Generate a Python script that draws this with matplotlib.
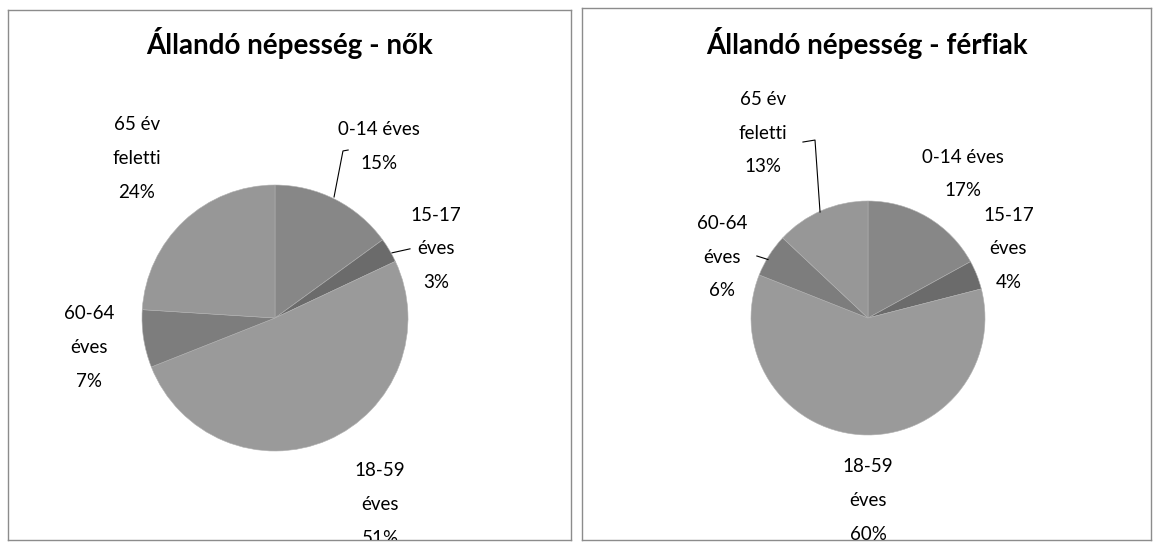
import matplotlib.pyplot as plt

plt.rcParams['font.family'] = ['Lato', 'DejaVu Sans']

age_groups = ['0-14 éves', '15-17 éves', '18-59 éves', '60-64 éves', '65 év feletti']
women = [15, 3, 51, 7, 24]
men = [17, 4, 60, 6, 13]
colors = ['#878787', '#6b6b6b', '#9a9a9a', '#7d7d7d', '#979797']

# label text per slice (as laid out in the original chart)
women_labels = ['0-14 éves\n15%', '15-17\néves\n3%', '18-59\néves\n51%', '60-64\néves\n7%', '65 év\nfeletti\n24%']
men_labels = ['0-14 éves\n17%', '15-17\néves\n4%', '18-59\néves\n60%', '60-64\néves\n6%', '65 év\nfeletti\n13%']

W, H = 1159, 549
fig = plt.figure(figsize=(W / 100, H / 100), dpi=100)


def panel(box, center, r, title, values, labels, label_pos, leaders):
    x0, y0, x1, y1 = box  # pixel box, y from top
    ax = fig.add_axes([x0 / W, 1 - y1 / H, (x1 - x0) / W, (y1 - y0) / H])
    cx, cy = center
    ax.pie(values, colors=colors, startangle=90, counterclock=False,
           radius=1, center=(0, 0), frame=True,
           wedgeprops=dict(linewidth=0.4, edgecolor='#b0b0b0'))
    ax.set_xlim((x0 - cx) / r, (x1 - cx) / r)
    ax.set_ylim((cy - y1) / r, (cy - y0) / r)
    ax.set_aspect('auto')
    ax.set_xticks([])
    ax.set_yticks([])
    for s in ax.spines.values():
        s.set_color('#8c8c8c')
        s.set_linewidth(1.0)
    ax.text(0.5, 1 - (43 - y0) / (y1 - y0), title, transform=ax.transAxes,
            ha='center', va='center', fontsize=20, fontweight='bold')
    for lab, (lx, ly) in zip(labels, label_pos):
        ax.text(lx, ly, lab, ha='center', va='center', fontsize=13.5,
                linespacing=2.2, clip_on=True)
    for pts in leaders:
        ax.plot([p[0] for p in pts], [p[1] for p in pts], color='black', lw=0.8)
    return ax


panel((8, 10, 571, 540), (275, 318), 133, 'Állandó népesség - nők', women, women_labels,
      [(0.78, 1.29), (1.21, 0.52), (0.79, -1.40), (-1.40, -0.22), (-1.04, 1.20)],
      [[(0.55, 1.263), (0.511, 1.256), (0.444, 0.91)],
       [(0.88, 0.49), (1.015, 0.52)]])

panel((582, 8, 1151, 540), (868, 318), 117, 'Állandó népesség - férfiak', men, men_labels,
      [(0.81, 1.23), (1.20, 0.59), (0.0, -1.56), (-1.25, 0.52), (-0.90, 1.58)],
      [[(-0.556, 1.504), (-0.453, 1.521), (-0.41, 0.906)],
       [(-0.95, 0.53), (-0.855, 0.50)]])

fig.savefig('out.png', dpi=100)
